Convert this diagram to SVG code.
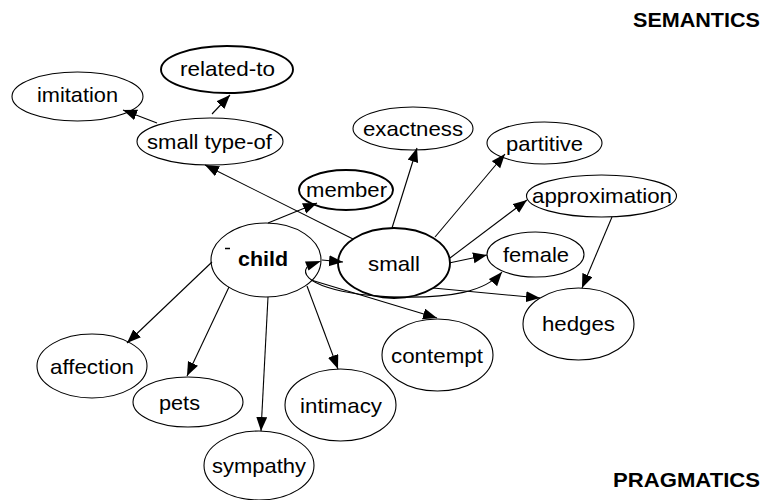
<svg xmlns="http://www.w3.org/2000/svg" width="764" height="500" viewBox="0 0 764 500">
<style>
.n{fill:#fff;stroke:#000;stroke-width:1.1}
.b{stroke-width:1.9}
.t{font-family:"Liberation Sans",Arial,sans-serif;font-size:21px;fill:#000;text-anchor:middle}
.bold{font-weight:bold}
.e{fill:none;stroke:#000;stroke-width:1.1}
.h{font-family:"Liberation Sans",Arial,sans-serif;font-size:20px;font-weight:bold;fill:#000}
</style>
<defs>
<marker id="a" markerUnits="userSpaceOnUse" markerWidth="15" markerHeight="12" refX="14" refY="5.5" orient="auto">
<path d="M0,0 L14,5.5 L0,11 z" fill="#000"/>
</marker>
</defs>
<rect width="764" height="500" fill="#fff"/>
<g id="imitation"><ellipse class="n" cx="77.5" cy="96.5" rx="65.5" ry="24.5"/><text class="t" x="77.5" y="102" textLength="81" lengthAdjust="spacingAndGlyphs">imitation</text></g>
<g id="related-to"><ellipse class="n b" cx="227" cy="69.5" rx="66" ry="23.5"/><text class="t" x="227.5" y="76" textLength="95" lengthAdjust="spacingAndGlyphs">related-to</text></g>
<g id="small-type-of"><ellipse class="n" cx="210" cy="141.5" rx="73" ry="23.5"/><text class="t" x="209.5" y="149" textLength="125" lengthAdjust="spacingAndGlyphs">small type-of</text></g>
<g id="exactness"><ellipse class="n" cx="413" cy="128.5" rx="60" ry="21.5"/><text class="t" x="413" y="136" textLength="100" lengthAdjust="spacingAndGlyphs">exactness</text></g>
<g id="partitive"><ellipse class="n" cx="544.5" cy="143" rx="57.5" ry="21"/><text class="t" x="544.5" y="150.5" textLength="77" lengthAdjust="spacingAndGlyphs">partitive</text></g>
<g id="member"><ellipse class="n b" cx="346" cy="190" rx="47" ry="20"/><text class="t" x="346.5" y="197" textLength="81" lengthAdjust="spacingAndGlyphs">member</text></g>
<g id="approximation"><ellipse class="n" cx="601.5" cy="196" rx="75" ry="21"/><text class="t" x="602" y="203" textLength="140" lengthAdjust="spacingAndGlyphs">approximation</text></g>
<g id="child"><ellipse class="n" cx="266" cy="260" rx="55" ry="37"/><line x1="225" y1="248.5" x2="230" y2="248.5" stroke="#000" stroke-width="1.5"/><text class="t bold" x="263" y="266" textLength="50" lengthAdjust="spacingAndGlyphs">child</text></g>
<g id="small"><ellipse class="n b" cx="394" cy="263" rx="56" ry="35"/><text class="t" x="394" y="271" textLength="52" lengthAdjust="spacingAndGlyphs">small</text></g>
<g id="female"><ellipse class="n" cx="535.5" cy="254.5" rx="48.5" ry="22.5"/><text class="t" x="536" y="261.5" textLength="66" lengthAdjust="spacingAndGlyphs">female</text></g>
<g id="hedges"><ellipse class="n" cx="578.5" cy="324" rx="55.5" ry="36"/><text class="t" x="578.5" y="331" textLength="73" lengthAdjust="spacingAndGlyphs">hedges</text></g>
<g id="contempt"><ellipse class="n" cx="437.5" cy="355" rx="55.5" ry="36"/><text class="t" x="437" y="363" textLength="92" lengthAdjust="spacingAndGlyphs">contempt</text></g>
<g id="affection"><ellipse class="n" cx="92" cy="366" rx="55" ry="32"/><text class="t" x="92" y="374" textLength="84" lengthAdjust="spacingAndGlyphs">affection</text></g>
<g id="pets"><ellipse class="n" cx="188" cy="402" rx="55" ry="25"/><text class="t" x="179.5" y="409.5" textLength="41" lengthAdjust="spacingAndGlyphs">pets</text></g>
<g id="intimacy"><ellipse class="n" cx="340.5" cy="405" rx="55.5" ry="36"/><text class="t" x="341" y="413" textLength="82" lengthAdjust="spacingAndGlyphs">intimacy</text></g>
<g id="sympathy"><ellipse class="n" cx="259" cy="465.5" rx="55" ry="34.5"/><text class="t" x="259" y="473" textLength="94" lengthAdjust="spacingAndGlyphs">sympathy</text></g>
<g id="connectors">
<line class="e" x1="353" y1="239" x2="205" y2="165" marker-end="url(#a)"/>
<line class="e" x1="157" y1="123" x2="123" y2="110" marker-end="url(#a)"/>
<line class="e" x1="212" y1="114" x2="230" y2="95" marker-end="url(#a)"/>
<line class="e" x1="268" y1="223" x2="317" y2="203" marker-end="url(#a)"/>
<line class="e" x1="322" y1="260" x2="343" y2="262" marker-end="url(#a)"/>
<line class="e" x1="392" y1="228" x2="417" y2="148" marker-end="url(#a)"/>
<line class="e" x1="435" y1="237" x2="505" y2="154" marker-end="url(#a)"/>
<line class="e" x1="450" y1="258" x2="527" y2="200" marker-end="url(#a)"/>
<line class="e" x1="449" y1="263" x2="487" y2="255" marker-end="url(#a)"/>
<line class="e" x1="612" y1="217" x2="582" y2="288" marker-end="url(#a)"/>
<line class="e" x1="433" y1="288" x2="540" y2="298" marker-end="url(#a)"/>
<line class="e" x1="311" y1="280" x2="437" y2="318" marker-end="url(#a)"/>
<line class="e" x1="212" y1="262" x2="127" y2="343" marker-end="url(#a)"/>
<line class="e" x1="229" y1="287" x2="187" y2="376" marker-end="url(#a)"/>
<line class="e" x1="268" y1="297" x2="261" y2="431" marker-end="url(#a)"/>
<line class="e" x1="307" y1="286" x2="338" y2="369" marker-end="url(#a)"/>
<path class="e" d="M307,267 C297,282 340,296 400,297 C450,298 485,292 502,272" marker-end="url(#a)"/>
<polygon points="321,261 305,261.5 308.5,270.5" fill="#000"/>
</g>
<text class="h" x="633" y="27" textLength="127" lengthAdjust="spacingAndGlyphs">SEMANTICS</text>
<text class="h" x="613" y="487" textLength="147" lengthAdjust="spacingAndGlyphs">PRAGMATICS</text>
</svg>
